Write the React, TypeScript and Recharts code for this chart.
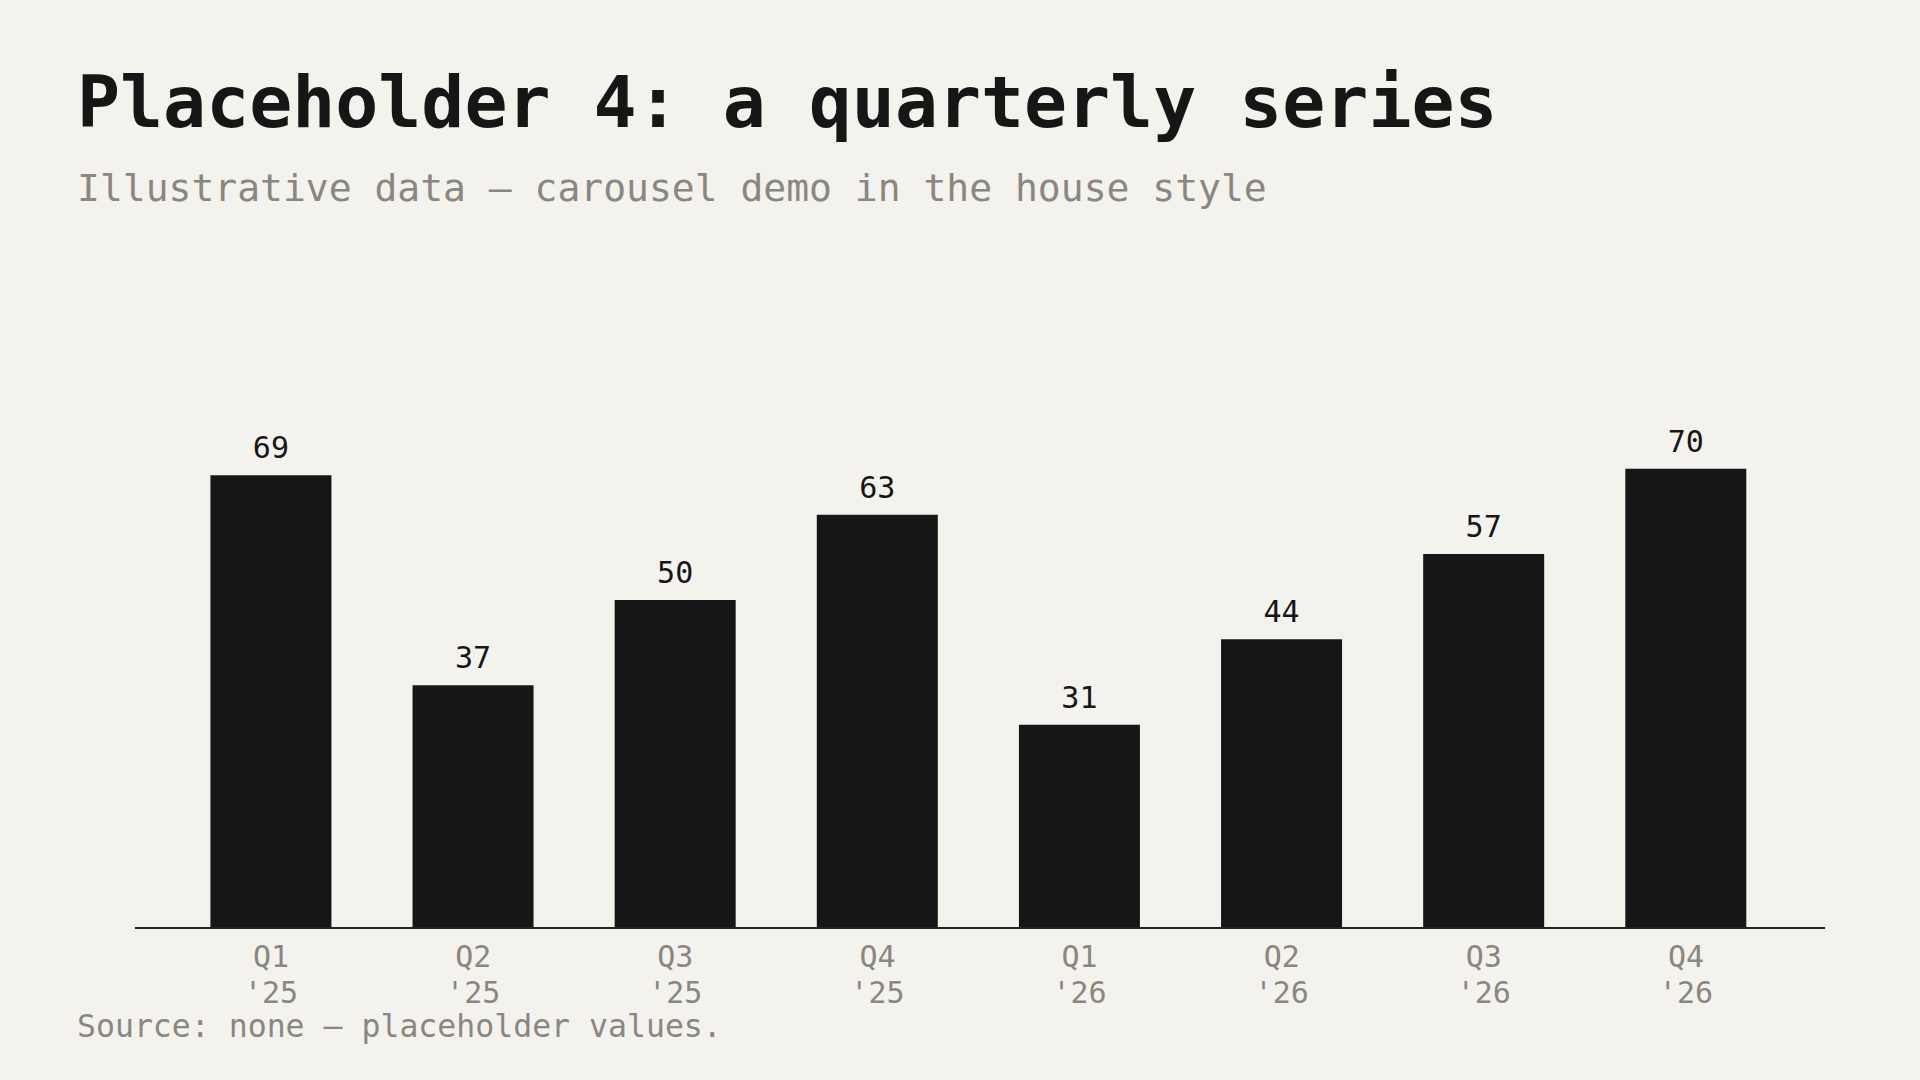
import React from "react";
import { BarChart, Bar, XAxis, YAxis, LabelList } from "recharts";

const quarters = ["Q1", "Q2", "Q3", "Q4", "Q1", "Q2", "Q3", "Q4"];
const years = ["'25", "'25", "'25", "'25", "'26", "'26", "'26", "'26"];
const values = [69, 37, 50, 63, 31, 44, 57, 70];

const TITLE = "Placeholder 4: a quarterly series";
const SUBTITLE = "Illustrative data \u2014 carousel demo in the house style";
const SOURCE = "Source: none \u2014 placeholder values.";

const data = quarters.map((q, i) => ({ key: `${q} ${years[i]}`, q, yr: years[i], value: values[i] }));

const FONT = "'DejaVu Sans Mono', 'Liberation Mono', monospace";
const BG = "#f4f2ec";
const INK = "#161616";
const GREY = "#8a8680";

const Tick = (props: any) => {
  const { x, y, index } = props;
  const d = data[index];
  if (!d) return null;
  return (
    <g>
      <text x={x} y={y + 39} textAnchor="middle" fill={GREY} fontFamily={FONT} fontSize={30}>
        {d.q}
      </text>
      <text x={x} y={y + 75} textAnchor="middle" fill={GREY} fontFamily={FONT} fontSize={30}>
        {d.yr}
      </text>
    </g>
  );
};

const ValueLabel = (props: any) => {
  const { x, y, width, value } = props;
  return (
    <text x={x + width / 2} y={y - 17} textAnchor="middle" fill={INK} fontFamily={FONT} fontSize={30}>
      {value}
    </text>
  );
};

export default function App() {
  return (
    <div style={{ position: "fixed", left: 0, top: 0, width: 1920, height: 1080, background: BG, overflow: "hidden" }}>
      <svg width={1920} height={1080} style={{ position: "absolute", left: 0, top: 0 }}>
        <text x={77} y={127} fill={INK} fontFamily={FONT} fontWeight={700} fontSize={71.5}>
          {TITLE}
        </text>
        <text x={77} y={201} fill={GREY} fontFamily={FONT} fontSize={38}>
          {SUBTITLE}
        </text>
        <text x={77} y={1037} fill={GREY} fontFamily={FONT} fontSize={31.5}>
          {SOURCE}
        </text>
      </svg>
      <div style={{ position: "absolute", left: 0, top: 0 }}>
        <BarChart
          width={1920}
          height={1080}
          data={data}
          margin={{ top: 272, right: 95, bottom: 52, left: 135 }}
          barCategoryGap="20%"
        >
          <XAxis
            dataKey="key"
            height={100}
            interval={0}
            tickLine={false}
            tickSize={0}
            tickMargin={0}
            axisLine={{ stroke: "#222222", strokeWidth: 2 }}
            padding={{ left: 35, right: 38 }}
            tick={<Tick />}
          />
          <YAxis hide domain={[0, 100]} />
          <Bar dataKey="value" fill={INK} isAnimationActive={false}>
            <LabelList dataKey="value" content={<ValueLabel />} />
          </Bar>
        </BarChart>
      </div>
    </div>
  );
}
